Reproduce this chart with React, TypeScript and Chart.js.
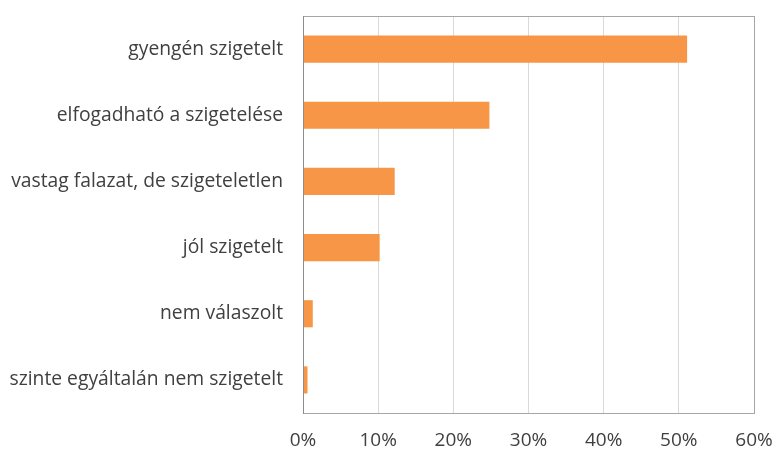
import React, { useEffect, useRef } from "react";
import { Chart, registerables } from "chart.js";

Chart.register(...registerables);

const categories = [
  "gyengén szigetelt",
  "elfogadható a szigetelése",
  "vastag falazat, de szigeteletlen",
  "jól szigetelt",
  "nem válaszolt",
  "szinte egyáltalán nem szigetelt",
];
const values = [51.1, 24.8, 12.2, 10.2, 1.3, 0.6];
const xTicks = [0, 10, 20, 30, 40, 50, 60];

const FONT = "'Open Sans', 'Liberation Sans', sans-serif";

const frame = {
  id: "frame",
  afterDraw(chart: any) {
    const { ctx, chartArea: a } = chart;
    ctx.save();
    ctx.strokeStyle = "#A6A6A6";
    ctx.lineWidth = 1;
    ctx.strokeRect(a.left + 0.5, a.top + 0.5, a.right - a.left, a.bottom - a.top);
    ctx.strokeStyle = "#8C8C8C";
    ctx.beginPath();
    ctx.moveTo(a.left + 0.5, a.top);
    ctx.lineTo(a.left + 0.5, a.bottom + 1);
    ctx.stroke();
    ctx.restore();
  },
};

export default function App() {
  const ref = useRef<HTMLCanvasElement | null>(null);
  useEffect(() => {
    if (!ref.current) return;
    const chart = new Chart(ref.current, {
      type: "bar",
      data: {
        labels: categories,
        datasets: [
          {
            data: values,
            backgroundColor: "#F79646",
            borderWidth: 0,
            categoryPercentage: 1,
            barPercentage: 0.41,
          },
        ],
      },
      options: {
        indexAxis: "y",
        animation: false,
        responsive: false,
        layout: { padding: { top: 16, right: 22, left: 0, bottom: 0 } },
        plugins: { legend: { display: false }, tooltip: { enabled: false } },
        scales: {
          x: {
            min: 0,
            max: 60,
            afterBuildTicks: (s: any) => {
              s.ticks = xTicks.map((v) => ({ value: v }));
            },
            afterFit: (s: any) => {
              s.height = 37;
              s.paddingLeft = 0;
              s.paddingRight = 0;
            },
            grid: { color: "#D9D9D9", lineWidth: 1, drawTicks: false },
            border: { display: false },
            ticks: {
              padding: 16,
              color: "#404040",
              font: { family: FONT, size: 19 },
              callback: (v: any) => v + "%",
            },
          },
          y: {
            afterFit: (s: any) => {
              s.width = 303;
              s.paddingTop = 0;
              s.paddingBottom = 0;
            },
            grid: { display: false, drawTicks: false },
            border: { display: false },
            ticks: {
              padding: 20,
              color: "#404040",
              font: { family: FONT, size: 19.3 },
            },
          },
        },
      },
      plugins: [frame],
    });
    return () => chart.destroy();
  }, []);
  return (
    <div style={{ position: "fixed", left: 0, top: 0, width: 776, height: 450, background: "#fff" }}>
      <canvas ref={ref} width={776} height={450} />
    </div>
  );
}
